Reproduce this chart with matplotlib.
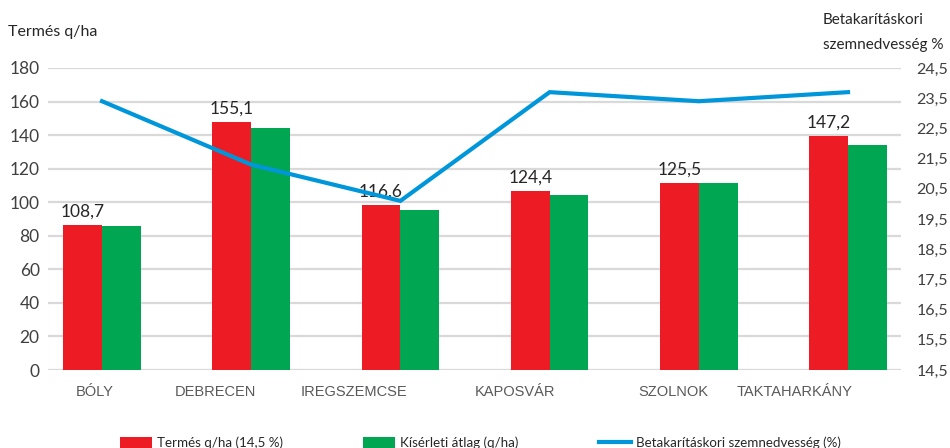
import matplotlib
matplotlib.use("Agg")
import matplotlib.pyplot as plt
import numpy as np

# Data
sites = ["BÓLY", "DEBRECEN", "IREGSZEMCSE", "KAPOSVÁR", "SZOLNOK", "TAKTAHARKÁNY"]
yield_bars = [86.2, 147.6, 98.3, 106.7, 111.4, 139.4]          # Termés q/ha (14,5 %)
trial_avg = [85.8, 144.2, 95.4, 104.3, 111.4, 134.1]            # Kísérleti átlag (q/ha)
yield_labels = [108.7, 155.1, 116.6, 124.4, 125.5, 147.2]       # printed data labels
moisture = [23.4, 21.3, 20.1, 23.7, 23.4, 23.7]                 # Betakarításkori szemnedvesség (%)
left_ticks = list(range(0, 181, 20))
right_ticks = [14.5 + i for i in range(11)]

RED = "#ED1C24"
GREEN = "#00A651"
BLUE = "#0096DA"
GRID = "#D9D9D9"
TXT = "#404040"

plt.rcParams["font.family"] = ["Lato", "DejaVu Sans"]

fig = plt.figure(figsize=(9.5, 4.48), dpi=100)
ax = fig.add_axes([48 / 950, 78 / 448, 853 / 950, 302 / 448])
ax2 = ax.twinx()

x = np.arange(len(sites))
w = 0.26
ax.bar(x - w / 2, yield_bars, w, color=RED, label="Termés q/ha (14,5 %)", zorder=3)
ax.bar(x + w / 2, trial_avg, w, color=GREEN, label="Kísérleti átlag (q/ha)", zorder=3)

for xi, h, lab in zip(x, yield_bars, yield_labels):
    ax.annotate(f"{lab:.1f}".replace(".", ","), (xi - w / 2, h), xytext=(0, 4),
                textcoords="offset points", ha="center", va="bottom",
                fontsize=12.5, color="#262626")

ax2.plot(x, moisture, color=BLUE, lw=3, label="Betakarításkori szemnedvesség (%)",
         solid_joinstyle="miter")

ax.set_xlim(-0.362, 5.355)
ax.set_ylim(0, 180)
ax2.set_ylim(14.5, 24.5)
ax.set_yticks(left_ticks)
ax2.set_yticks(right_ticks)
ax2.set_yticklabels([f"{v:.1f}".replace(".", ",") for v in right_ticks])
ax.yaxis.grid(True, color=GRID, lw=1.6, zorder=0)
ax.set_axisbelow(True)

for a in (ax, ax2):
    for s in a.spines.values():
        s.set_visible(False)
ax.tick_params(axis="y", length=0, pad=6, labelsize=12.5, labelcolor=TXT)
ax2.tick_params(axis="y", length=0, pad=11, labelsize=11.5, labelcolor=TXT)
ax.set_xticks([])

# category labels sit slightly off the group centres in the original
label_pos = [-0.05, 0.76, 1.69, 2.77, 3.83, 4.64]
for lp, name in zip(label_pos, sites):
    ax.text(lp, -0.073, name, transform=ax.get_xaxis_transform(), ha="center",
            va="center", fontsize=10.5, color="#595959", family="Liberation Sans")

fig.text(8 / 950, 1 - 32 / 448, "Termés q/ha", fontsize=11.5, color="#262626", va="center")
fig.text(823 / 950, 1 - 20 / 448, "Betakarításkori", fontsize=11, color="#262626", va="center")
fig.text(823 / 950, 1 - 45 / 448, "szemnedvesség %", fontsize=11, color="#262626", va="center")

h1, l1 = ax.get_legend_handles_labels()
h2, l2 = ax2.get_legend_handles_labels()
fig.legend(h1 + h2, l1 + l2, loc="center left", bbox_to_anchor=(120 / 950, 1 - 443 / 448),
           ncol=3, frameon=False, fontsize=9.6, handlelength=2.4, handleheight=0.9,
           handletextpad=0.38, columnspacing=6.0, borderpad=0, borderaxespad=0,
           labelcolor="#262626")

fig.savefig("out.png", dpi=100)
